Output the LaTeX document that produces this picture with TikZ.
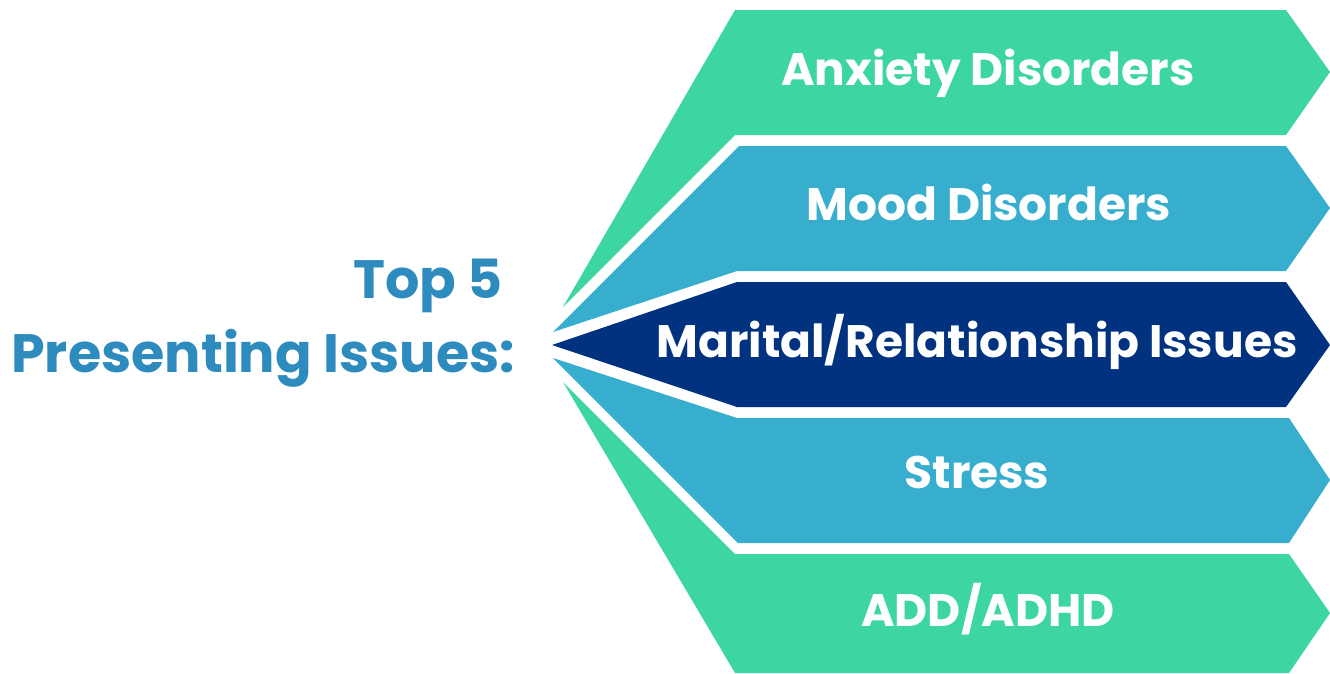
\documentclass[tikz,border=0pt]{standalone}
\usepackage{fontspec}
\setmainfont{Poppins}
\definecolor{issuegreen}{HTML}{3DD5A0}
\definecolor{issueblue}{HTML}{37AECE}
\definecolor{issuenavy}{HTML}{00327F}
\definecolor{titleblue}{HTML}{2E8BBE}
\begin{document}
\begin{tikzpicture}[x=1pt, y=-1pt,
    issue/.style={anchor=base, text=white, inner sep=0pt, font=\fontsize{45.5}{45.5}\selectfont\bfseries},
    heading/.style={anchor=base east, text=titleblue, inner sep=0pt, font=\fontsize{54}{54}\selectfont\bfseries}]
  \useasboundingbox (0,0) rectangle (1330,673);
  % the five bands, from top to bottom
  \fill [issuegreen] (563,307) -- (735,10) -- (1286,10) -- (1330,72) -- (1286,135) -- (735,135) -- cycle;
  \fill [issueblue] (553,332) -- (739,146) -- (1286,146) -- (1330,208) -- (1286,271) -- (737,271) -- cycle;
  \fill [issuenavy] (552,345) -- (737,282) -- (1286,282) -- (1330,345) -- (1286,407) -- (737,407) -- cycle;
  \fill [issueblue] (553,358) -- (737,418) -- (1289,418) -- (1330,480) -- (1289,543) -- (738,543) -- cycle;
  \fill [issuegreen] (563,382) -- (735,554) -- (1289,554) -- (1330,613) -- (1289,673) -- (735,673) -- cycle;
  % labels
  \node [issue] (anxiety) at (988,85) {Anxiety Disorders};
  \node [issue] (mood) at (989,220) {Mood Disorders};
  \node [issue] (marital) at (977,357) {Marital/Relationship Issues};
  \node [issue] (stress) at (977,488) {Stress};
  \node [issue] (adhd) at (988,626) {ADD/ADHD};
  % title
  \node [heading] (top) at (503,298) {Top 5};
  \node [heading] (presenting) at (515,372) {Presenting Issues:};
\end{tikzpicture}
\end{document}
